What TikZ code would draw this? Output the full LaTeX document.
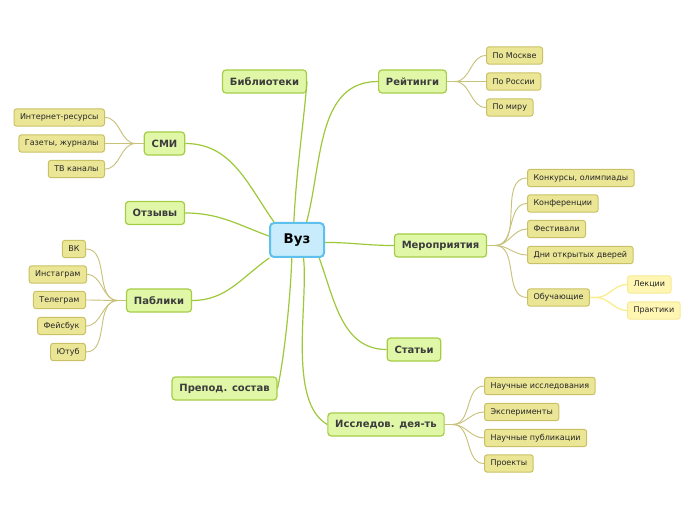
\documentclass[tikz,border=0pt]{standalone}
\usepackage{fontspec}
\setmainfont{DejaVu Sans}
\usetikzlibrary{positioning}
\definecolor{vuzfill}{HTML}{C8ECFC}
\definecolor{vuzborder}{HTML}{5EC0EC}
\definecolor{topicfill}{HTML}{E0F7A8}
\definecolor{topicborder}{HTML}{A5CC45}
\definecolor{trunkline}{HTML}{9DC83A}
\definecolor{leaffill}{HTML}{EBE596}
\definecolor{leafborder}{HTML}{C9C165}
\definecolor{twigline}{HTML}{C8C27A}
\definecolor{subfill}{HTML}{FFF6B4}
\definecolor{subborder}{HTML}{F7EA92}
\definecolor{subline}{HTML}{FBEB86}
\definecolor{darktext}{HTML}{3C3C3C}
\tikzset{
  hub/.style={draw=vuzborder, fill=vuzfill, line width=1.5pt, rounded corners=3pt,
    minimum width=40.5pt, minimum height=25.5pt, font=\fontsize{10}{12}\selectfont\bfseries},
  topic/.style={draw=topicborder, fill=topicfill, line width=0.9pt, rounded corners=2.5pt,
    inner xsep=5.5pt, inner ysep=0pt, minimum height=17.25pt, text=darktext,
    font=\fontsize{7.5}{9}\selectfont\bfseries},
  leaf/.style={draw=leafborder, fill=leaffill, line width=0.75pt, rounded corners=2pt,
    inner xsep=4.5pt, inner ysep=0pt, minimum height=13pt, text=black!85,
    font=\fontsize{6}{7}\selectfont},
  subleaf/.style={leaf, draw=subborder, fill=subfill},
  trunk/.style={draw=trunkline, line width=0.9pt},
  twig/.style={draw=twigline, line width=0.7pt},
  subtwig/.style={draw=subline, line width=0.9pt}
}

\begin{document}
\begin{tikzpicture}[x=0.75pt, y=-0.75pt]
  \useasboundingbox (0,0) rectangle (696,520);

  \node[hub] (vuz) at (297,240) {Вуз};

  \node[topic] (bib) at (264.5,81.5) {Библиотеки};
  \node[topic] (reit) at (412.5,81.5) {Рейтинги};
  \node[topic] (smi) at (164.5,143.5) {СМИ};
  \node[topic] (otz) at (155,213) {Отзывы};
  \node[topic] (mer) at (440.5,245.5) {Мероприятия};
  \node[topic] (pab) at (159,300.5) {Паблики};
  \node[topic] (stat) at (414,349.5) {Статьи};
  \node[topic] (prep) at (224.5,388.5) {Препод. состав};
  \node[topic] (issl) at (386,424.5) {Исследов. дея-ть};

  \node[leaf, anchor=west] (msk) at (486,55.5) {По Москве};
  \node[leaf, anchor=west] (ros) at (486,81.5) {По России};
  \node[leaf, anchor=west] (mir) at (486,107.5) {По миру};

  \node[leaf, anchor=east] (inet) at (105,117.5) {Интернет-ресурсы};
  \node[leaf, anchor=east] (gaz) at (105,143.5) {Газеты, журналы};
  \node[leaf, anchor=east] (tv) at (105,169) {ТВ каналы};

  \node[leaf, anchor=west] (konk) at (527,178) {Конкурсы, олимпиады};
  \node[leaf, anchor=west] (konf) at (527,203.5) {Конференции};
  \node[leaf, anchor=west] (fest) at (527,229) {Фестивали};
  \node[leaf, anchor=west] (dni) at (527,255) {Дни открытых дверей};
  \node[leaf, anchor=west] (obuch) at (527,297.5) {Обучающие};
  \node[subleaf, anchor=west] (lek) at (627,284.5) {Лекции};
  \node[subleaf, anchor=west] (prak) at (627,310.5) {Практики};

  \node[leaf, anchor=east] (vk) at (86,249) {ВК};
  \node[leaf, anchor=east] (inst) at (87,274.5) {Инстаграм};
  \node[leaf, anchor=east] (tlg) at (86,300) {Телеграм};
  \node[leaf, anchor=east] (fb) at (86,326) {Фейсбук};
  \node[leaf, anchor=east] (yt) at (86,352) {Ютуб};

  \node[leaf, anchor=west] (nissl) at (484,386) {Научные исследования};
  \node[leaf, anchor=west] (eksp) at (484,412) {Эксперименты};
  \node[leaf, anchor=west] (npub) at (484,438) {Научные публикации};
  \node[leaf, anchor=west] (proj) at (484,463.5) {Проекты};

  \draw[trunk] (vuz.100) to[out=87, in=-95] (bib.east);
  \draw[trunk] (vuz.62) to[out=75, in=180] (reit.west);
  \draw[trunk] (vuz.142) to[out=125, in=0] (smi.east);
  \draw[trunk] (vuz.172) to[out=160, in=0] (otz.east);
  \draw[trunk] (vuz.355) to[out=0, in=180] (mer.west);
  \draw[trunk] (vuz.213) to[out=215, in=0] (pab.east);
  \draw[trunk] (vuz.321) to[out=-70, in=180] (stat.west);
  \draw[trunk] (vuz.254) to[out=-92, in=78, looseness=0.7] (prep.east);
  \draw[trunk] (vuz.290) to[out=-84, in=150, looseness=0.7] (issl.west);

  \foreach \c in {msk,ros,mir}
    \draw[twig] (reit.east) -- ++(8,0) to[out=0, in=180] (\c.west);
  \foreach \c in {inet,gaz,tv}
    \draw[twig] (smi.west) -- ++(-8,0) to[out=180, in=0] (\c.east);
  \foreach \c in {konk,konf,fest,dni,obuch}
    \draw[twig] (mer.east) -- ++(8,0) to[out=0, in=180] (\c.west);
  \foreach \c in {vk,inst,tlg,fb,yt}
    \draw[twig] (pab.west) -- ++(-8,0) to[out=180, in=0] (\c.east);
  \foreach \c in {nissl,eksp,npub,proj}
    \draw[twig] (issl.east) -- ++(8,0) to[out=0, in=180] (\c.west);
  \foreach \c in {lek,prak}
    \draw[subtwig] (obuch.east) -- ++(6,0) to[out=0, in=180] (\c.west);
\end{tikzpicture}
\end{document}
